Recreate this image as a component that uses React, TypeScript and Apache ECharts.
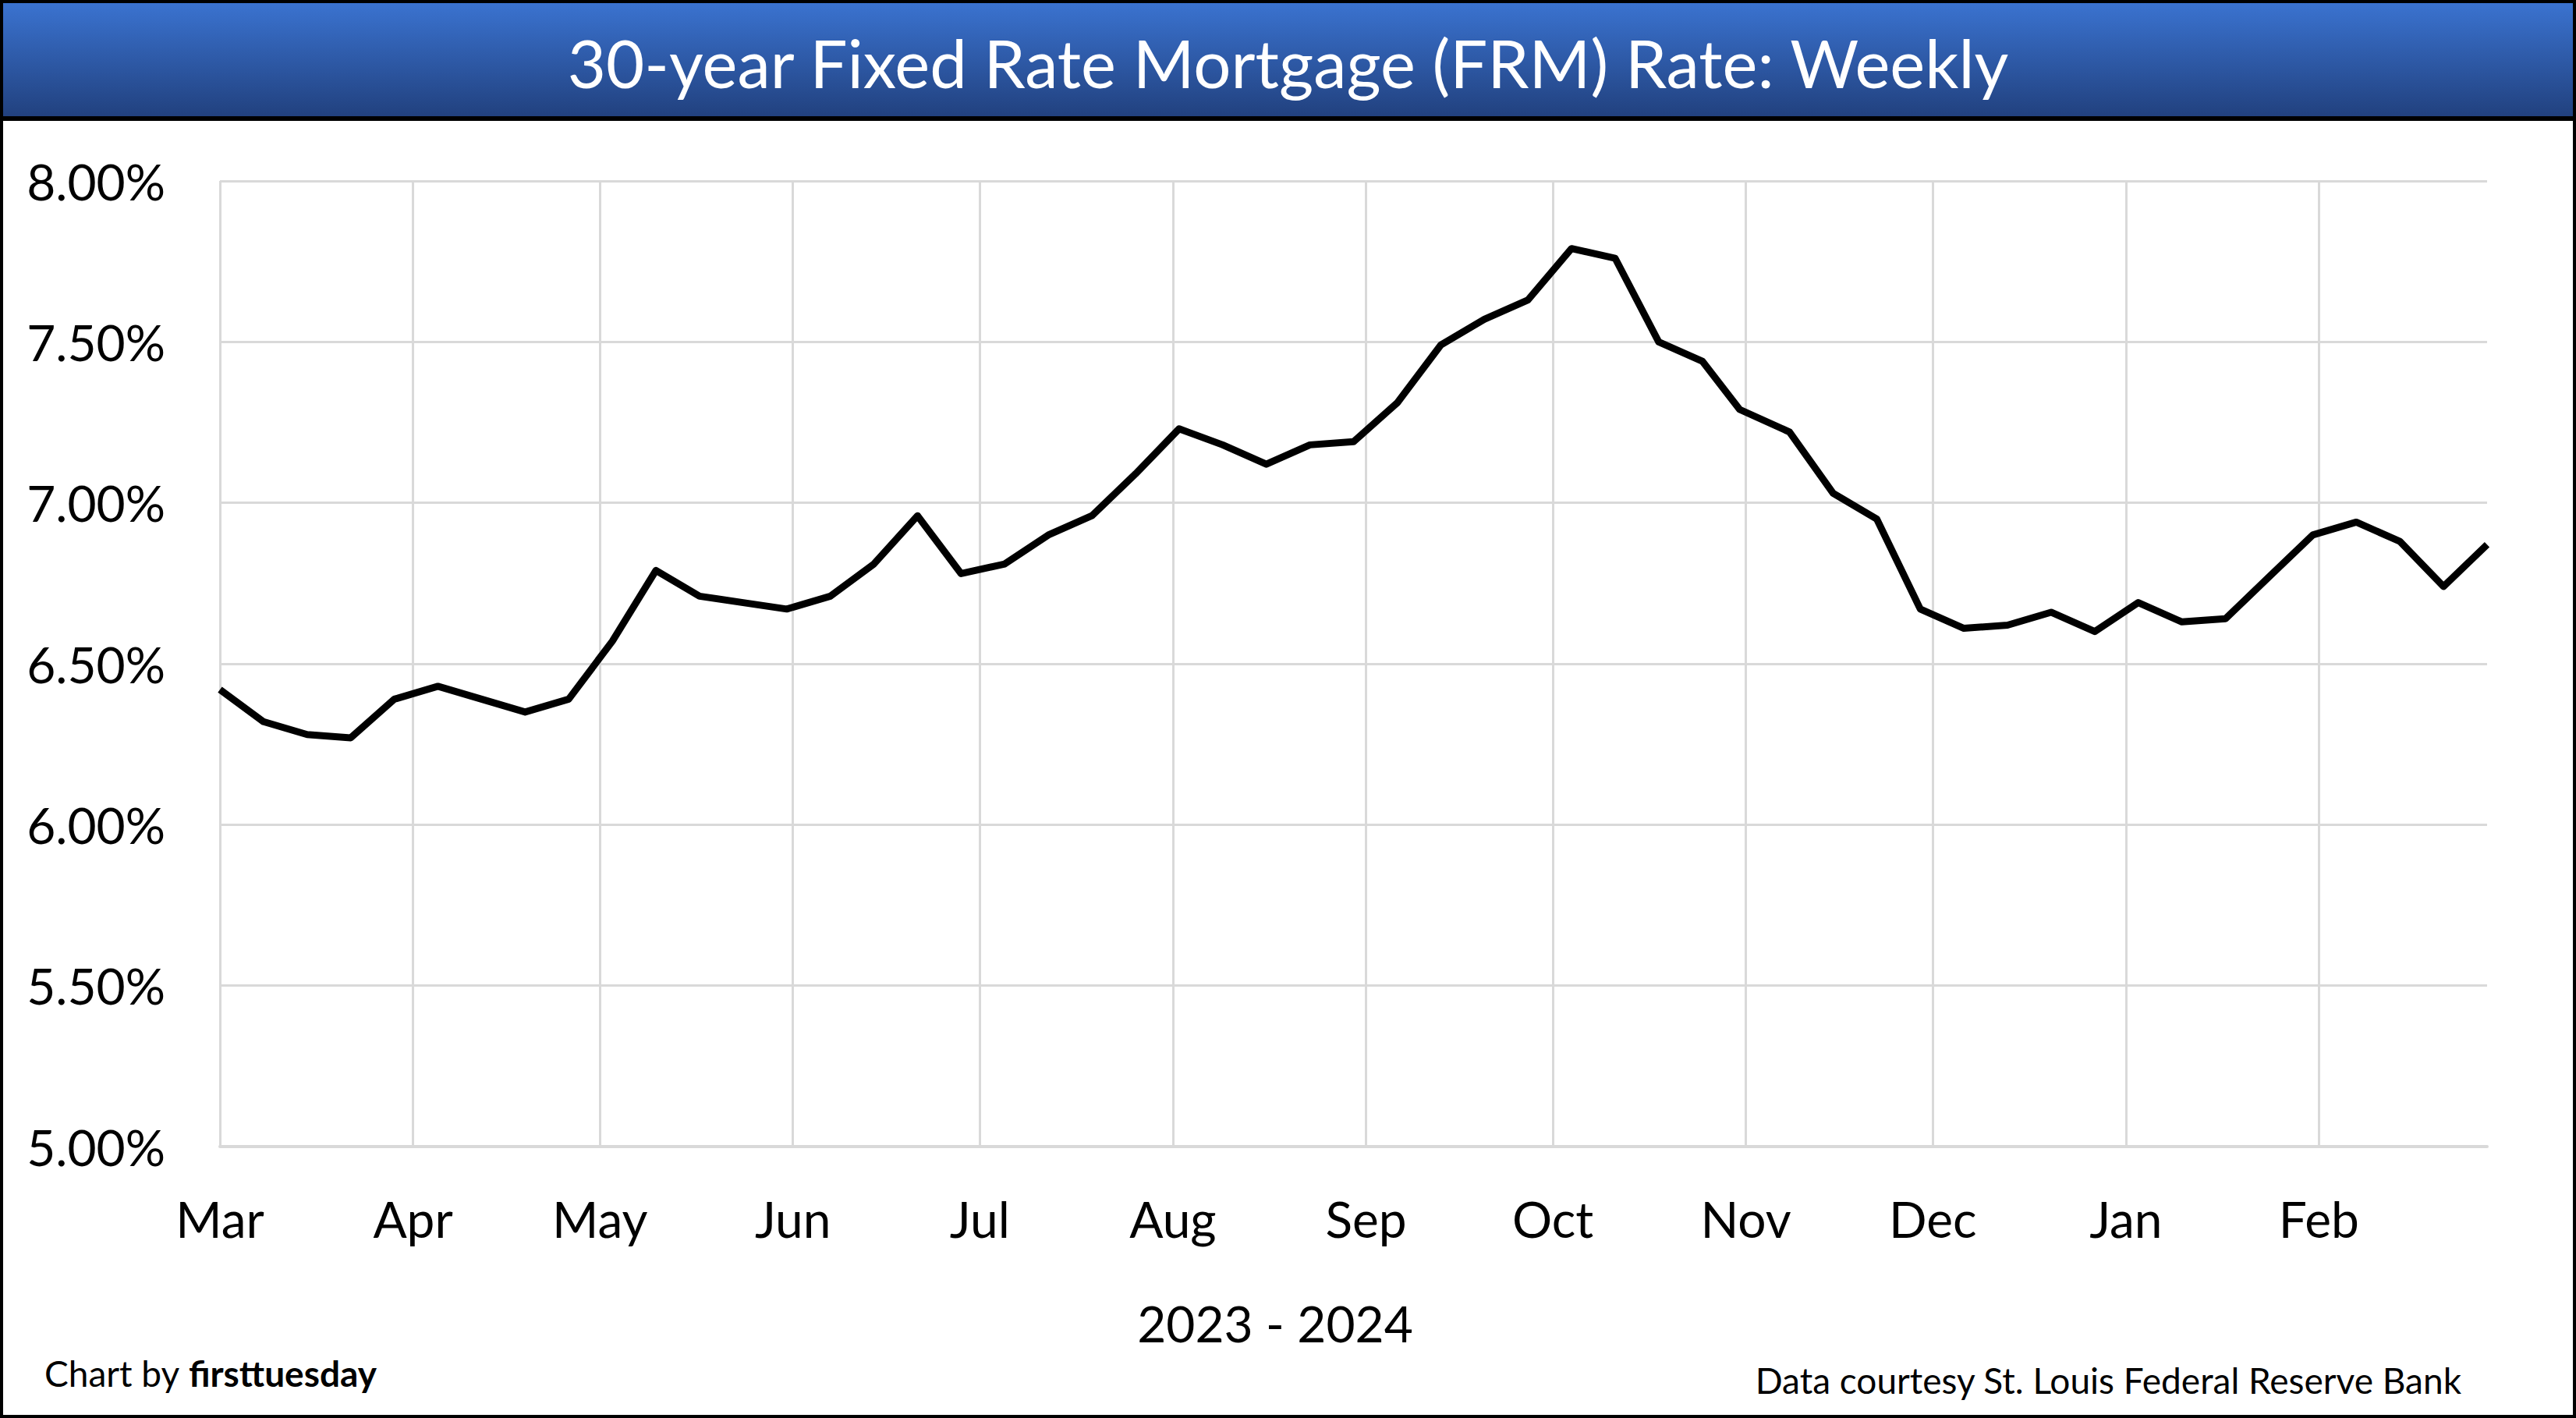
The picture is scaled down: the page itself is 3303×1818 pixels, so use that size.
import React, { useEffect, useRef } from "react";
import * as echarts from "echarts";

const dates = [
  "2023-03-23", "2023-03-30", "2023-04-06", "2023-04-13", "2023-04-20", "2023-04-27",
  "2023-05-04", "2023-05-11", "2023-05-18", "2023-05-25", "2023-06-01", "2023-06-08",
  "2023-06-15", "2023-06-22", "2023-06-29", "2023-07-06", "2023-07-13", "2023-07-20",
  "2023-07-27", "2023-08-03", "2023-08-10", "2023-08-17", "2023-08-24", "2023-08-31",
  "2023-09-07", "2023-09-14", "2023-09-21", "2023-09-28", "2023-10-05", "2023-10-12",
  "2023-10-19", "2023-10-26", "2023-11-02", "2023-11-09", "2023-11-16", "2023-11-22",
  "2023-11-30", "2023-12-07", "2023-12-14", "2023-12-21", "2023-12-28", "2024-01-04",
  "2024-01-11", "2024-01-18", "2024-01-25", "2024-02-01", "2024-02-08", "2024-02-15",
  "2024-02-22", "2024-02-29", "2024-03-07", "2024-03-14", "2024-03-21",
];

const rates = [
  6.42, 6.32, 6.28, 6.27, 6.39, 6.43,
  6.39, 6.35, 6.39, 6.57, 6.79, 6.71,
  6.69, 6.67, 6.71, 6.81, 6.96, 6.78,
  6.81, 6.90, 6.96, 7.09, 7.23, 7.18,
  7.12, 7.18, 7.19, 7.31, 7.49, 7.57,
  7.63, 7.79, 7.76, 7.50, 7.44, 7.29,
  7.22, 7.03, 6.95, 6.67, 6.61, 6.62,
  6.66, 6.60, 6.69, 6.63, 6.64, 6.77,
  6.90, 6.94, 6.88, 6.74, 6.87,
];

const tickDates = [
  "2023-03-23", "2023-04-23", "2023-05-23", "2023-06-23", "2023-07-23", "2023-08-23",
  "2023-09-23", "2023-10-23", "2023-11-23", "2023-12-23", "2024-01-23", "2024-02-23",
];
const tickLabels = ["Mar", "Apr", "May", "Jun", "Jul", "Aug", "Sep", "Oct", "Nov", "Dec", "Jan", "Feb"];

const yTicks = [5.0, 5.5, 6.0, 6.5, 7.0, 7.5, 8.0];

const titleText = "30-year Fixed Rate Mortgage (FRM) Rate: Weekly";
const xAxisTitle = "2023 - 2024";
const creditLeft = "Chart by ";
const creditBrand = "firsttuesday";
const creditRight = "Data courtesy St. Louis Federal Reserve Bank";

const DAY = 86400000;
const parseDate = (s: string) => {
  const [y, m, d] = s.split("-").map(Number);
  return Date.UTC(y, m - 1, d);
};
const dayIndex = (s: string) => Math.round((parseDate(s) - parseDate(dates[0])) / DAY);

const W = 3303;
const H = 1818;
const FONT = "Lato, 'Noto Sans', sans-serif";

export default function App() {
  const ref = useRef<HTMLDivElement>(null);

  useEffect(() => {
    if (!ref.current) return;
    const chart = echarts.init(ref.current, null, { renderer: "svg" });
    const tickDays = tickDates.map(dayIndex);
    const seriesData = dates.map((d, i) => [dayIndex(d), rates[i]]);

    const option: any = {
      animation: false,
      backgroundColor: "#ffffff",
      textStyle: { fontFamily: FONT },
      grid: { left: 282, right: 114, top: 232, bottom: 348, containLabel: false },
      xAxis: {
        type: "value",
        min: 0,
        max: dayIndex(dates[dates.length - 1]),
        axisLine: { show: true, onZero: false, lineStyle: { color: "#d9d9d9", width: 4 } },
        axisTick: { show: false, customValues: tickDays },
        axisLabel: {
          customValues: tickDays,
          formatter: (v: number) => {
            const idx = tickDays.indexOf(v);
            return idx >= 0 ? tickLabels[idx] : "";
          },
          color: "#000",
          fontSize: 64,
          fontFamily: FONT,
          margin: 60,
          hideOverlap: false,
        },
        splitLine: { show: true, lineStyle: { color: "#d9d9d9", width: 3 } },
      },
      yAxis: {
        type: "value",
        min: yTicks[0],
        max: yTicks[yTicks.length - 1],
        interval: 0.5,
        axisLine: { show: false },
        axisTick: { show: false },
        axisLabel: {
          formatter: (v: number) => v.toFixed(2) + "%",
          color: "#000",
          fontSize: 64,
          fontFamily: FONT,
          margin: 70,
        },
        splitLine: { show: true, lineStyle: { color: "#d9d9d9", width: 3 } },
      },
      series: [
        {
          type: "line",
          data: seriesData,
          symbol: "none",
          lineStyle: { color: "#000", width: 9, join: "round" },
          z: 5,
        },
      ],
      graphic: [
        {
          type: "rect",
          shape: { x: 0, y: 0, width: W, height: 152 },
          style: {
            fill: {
              type: "linear", x: 0, y: 0, x2: 0, y2: 1,
              colorStops: [
                { offset: 0, color: "#3b74d2" },
                { offset: 1, color: "#21407d" },
              ],
            },
          },
          z: 1,
        },
        {
          type: "rect",
          shape: { x: 0, y: 149, width: W, height: 6 },
          style: { fill: "#000" },
          z: 2,
        },
        {
          type: "text",
          x: W / 2,
          y: 80,
          style: {
            text: titleText,
            fill: "#fff",
            font: `85px ${FONT}`,
            textAlign: "center",
            textVerticalAlign: "middle",
          },
          z: 3,
        },
        {
          type: "text",
          x: 1635,
          y: 1696,
          style: {
            text: xAxisTitle,
            fill: "#000",
            font: `64px ${FONT}`,
            textAlign: "center",
            textVerticalAlign: "middle",
          },
          z: 3,
        },
        {
          type: "text",
          x: 57,
          y: 1760,
          style: {
            text: `{r|${creditLeft}}{b|${creditBrand}}`,
            rich: {
              r: { fontSize: 46, fontFamily: FONT, fill: "#000", color: "#000" },
              b: { fontSize: 46, fontFamily: FONT, fontWeight: "bold", fill: "#000", color: "#000" },
            },
            textAlign: "left",
            textVerticalAlign: "middle",
          },
          z: 3,
        },
        {
          type: "text",
          x: 3156,
          y: 1769,
          style: {
            text: creditRight,
            fill: "#000",
            font: `46px ${FONT}`,
            textAlign: "right",
            textVerticalAlign: "middle",
          },
          z: 3,
        },
        {
          type: "rect",
          shape: { x: 0, y: 0, width: W, height: H },
          style: { fill: "none", stroke: "#000", lineWidth: 8 },
          z: 10,
        },
      ],
    };
    chart.setOption(option);
    return () => chart.dispose();
  }, []);

  return (
    <div
      ref={ref}
      style={{ position: "fixed", left: 0, top: 0, width: W, height: H }}
    />
  );
}
